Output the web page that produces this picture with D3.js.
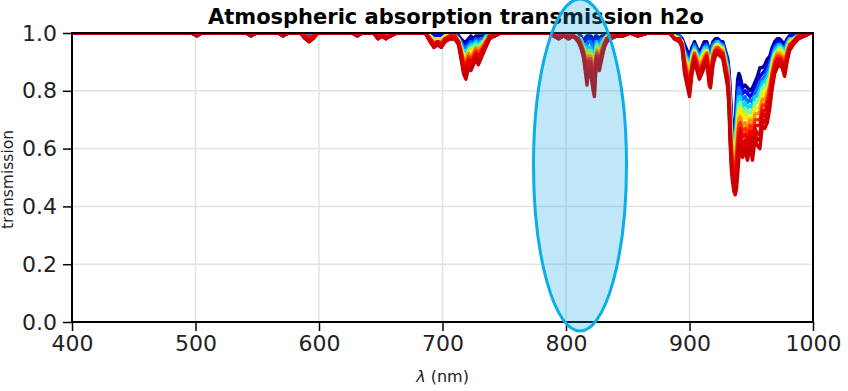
<!DOCTYPE html>
<html>
<head>
<meta charset="utf-8">
<script src="https://cdn.jsdelivr.net/npm/d3@7"></script>
<style>
  body { margin: 0; background: #fff; }
  svg { font-family: "DejaVu Sans", sans-serif; }
</style>
</head>
<body>
<div id="chart"></div>
<script>
// wavelength grid (nm)
var wavelength = [400,497,501,505,541,545,549,567,571,575,585,589,592,595,599,627,631,635,644,648,651,654,658,663,686,
  690,693,696,699,702,706,710,713,715,717,719,721,723,725,727,729,731,733,735,738,742,747,
  786,790,794,798,802,806,810,812,814,815,817,818,820,822,823,824,825,827,829,831,833,836,841,846,852,858,866,884,
  888,892,894,896,898,900,902,904,906,908,910,912,914,916,917,919,921,923,925,927,929,931,932,
  933,934,935,936,937,938,939,940,941,943,945,947,949,951,953,955,957,959,961,963,965,
  967,969,971,973,975,977,979,981,984,988,993,998,1000];

// transmission (%) per airmass, lowest airmass first
var t00 = [100,100,100,100,100,100,100,100,100,100,100,100,99,100,100,100,100,100,100,100,100,100,100,100,100,
  100,99,99,99,100,100,100,99,98,97,97,98,99,98,99,99,99,99,100,100,100,100,
  100,100,100,100,100,100,99,99,97,98,99,99,99,98,98,99,99,98,99,99,100,100,100,100,100,100,100,100,
  99,99,98,96,94,92,95,97,95,93,95,97,97,94,94,97,98,98,97,97,94,91,87,
  80,72,67,64,68,77,84,86,85,81,82,81,80,81,83,85,88,88,89,91,92,
  95,97,98,98,97,96,98,99,99,100,100,100,100];
var t01 = [100,100,100,100,100,100,100,100,100,100,100,100,99,100,100,100,100,100,100,100,100,100,100,100,100,
  100,99,99,99,100,100,100,99,97,96,96,97,98,97,98,98,98,98,100,100,100,100,
  100,100,100,100,100,100,99,99,97,97,97,98,98,96,96,98,98,97,98,99,100,100,100,100,100,100,100,100,
  99,99,98,95,93,91,94,96,94,92,94,96,96,93,93,96,97,98,97,96,93,90,86,
  78,70,65,62,66,74,81,83,83,79,80,79,78,79,81,83,85,86,87,89,90,
  94,96,97,97,96,95,97,99,99,100,100,100,100];
var t02 = [100,100,100,100,100,100,100,100,100,100,100,100,99,100,100,100,100,100,100,100,100,100,100,100,100,
  99,98,98,98,99,100,100,98,97,95,95,96,97,96,98,97,98,98,99,100,100,100,
  100,100,100,100,100,100,99,98,96,96,96,97,97,95,94,97,97,96,98,98,99,100,100,100,100,100,100,100,
  99,99,97,94,92,89,93,96,94,91,93,95,96,92,92,96,97,97,96,96,93,89,85,
  77,68,64,61,64,71,78,81,80,77,78,76,77,76,79,81,83,84,85,87,89,
  92,95,96,96,95,94,97,98,98,100,100,100,100];
var t03 = [100,100,100,100,100,100,100,100,100,100,100,99,98,99,100,100,100,100,100,99,100,99,100,100,100,
  99,98,98,98,99,99,99,98,96,94,93,95,96,96,97,96,97,97,99,99,100,100,
  100,100,99,100,99,100,98,98,96,96,94,95,95,93,93,95,97,95,97,98,99,99,100,100,100,100,100,100,
  99,98,97,93,91,88,93,95,93,91,93,95,95,91,90,95,96,97,96,95,92,88,83,
  75,67,62,59,61,69,75,78,78,74,76,74,75,74,78,78,80,83,83,85,87,
  91,94,95,96,95,93,96,98,98,99,100,100,100];
var t04 = [100,100,100,100,100,100,100,100,100,100,100,99,98,99,100,100,100,100,100,99,100,99,100,100,100,
  99,98,98,98,99,99,99,98,95,93,92,94,95,95,96,95,96,97,98,99,100,100,
  100,100,99,100,99,100,98,98,95,95,93,94,94,91,91,94,96,94,96,98,99,99,100,100,100,100,100,100,
  99,98,97,92,90,87,92,94,92,90,92,94,94,90,89,94,96,96,95,95,91,87,82,
  73,65,60,57,59,66,72,75,76,72,74,72,73,72,76,76,78,81,81,83,85,
  90,93,94,95,94,92,95,97,98,99,100,100,100];
var t05 = [100,100,100,100,100,100,100,100,100,100,100,99,98,99,100,100,100,100,100,99,100,99,100,100,100,
  99,97,98,97,99,99,99,98,95,92,91,93,94,94,95,94,95,96,98,99,100,100,
  100,100,99,100,99,100,98,97,95,94,91,93,93,90,89,93,95,93,95,97,99,99,100,100,100,100,100,100,
  99,98,97,91,89,86,91,94,91,89,91,93,94,89,88,93,95,96,95,94,90,86,81,
  71,63,58,55,57,63,69,73,74,70,72,70,71,70,74,74,75,79,79,81,84,
  89,92,93,94,93,91,94,97,98,99,100,100,100];
var t06 = [100,100,99,100,100,99,100,100,99,100,100,99,98,99,100,100,99,100,100,99,99,99,99,100,100,
  98,97,97,97,98,99,99,97,94,91,90,93,92,93,95,94,95,96,97,99,99,100,
  100,99,99,99,99,99,98,97,94,93,90,92,92,88,87,92,94,92,95,97,98,99,99,99,100,99,100,100,
  98,98,96,91,87,84,90,93,91,88,90,92,93,87,87,93,95,95,94,94,90,86,80,
  70,61,57,54,55,60,66,70,71,68,69,67,70,67,72,72,73,77,77,79,82,
  87,91,93,93,92,90,94,96,97,99,99,100,100];
var t07 = [100,100,99,100,100,99,100,100,99,100,100,99,98,99,100,100,99,100,100,99,99,99,99,100,100,
  98,96,97,96,98,99,99,97,94,90,89,92,91,92,94,93,94,95,97,99,99,100,
  100,99,99,99,99,99,98,96,94,92,88,91,91,87,85,91,93,91,94,96,98,99,99,99,100,99,100,100,
  98,98,96,90,86,83,89,93,90,87,89,91,93,86,86,92,94,95,94,93,89,85,79,
  68,59,55,52,53,57,63,68,69,66,67,65,68,65,70,70,70,75,75,77,81,
  86,90,92,92,91,89,93,96,97,99,99,100,100];
var t08 = [100,100,99,100,100,99,100,100,99,100,100,99,98,99,100,100,99,100,100,99,99,99,99,100,100,
  98,96,97,96,98,99,99,97,93,89,88,91,90,91,93,92,93,95,96,99,99,100,
  100,99,99,99,99,99,98,96,93,91,87,90,90,85,83,90,92,90,93,96,98,99,99,99,100,99,100,100,
  98,98,96,89,85,82,88,92,89,86,88,90,92,85,85,91,94,94,93,93,88,84,78,
  66,57,53,50,51,54,60,65,67,64,65,63,66,63,68,68,68,73,73,75,79,
  85,89,91,91,90,88,92,95,97,99,99,100,100];
var t09 = [100,100,99,100,100,99,100,100,99,100,100,98,97,98,100,100,99,100,100,98,99,98,99,100,100,
  98,96,97,96,98,98,98,97,92,88,86,90,89,91,92,91,92,94,96,98,99,100,
  100,99,98,99,98,99,97,96,93,91,85,88,88,83,82,88,92,89,92,96,98,98,99,99,100,99,100,100,
  98,97,96,88,84,81,88,91,88,86,88,90,91,84,83,90,93,94,93,92,87,83,76,
  64,56,51,48,48,52,57,62,65,61,63,61,64,61,67,65,65,72,71,73,77,
  84,88,90,91,90,87,91,95,97,98,99,100,100];
var t10 = [100,100,99,100,100,99,100,100,99,100,100,98,97,98,100,100,99,100,100,98,99,98,99,100,100,
  97,95,96,95,97,98,98,96,92,87,85,89,88,90,92,90,92,94,95,98,99,100,
  100,99,98,99,98,99,97,95,92,90,84,87,87,82,80,87,91,88,92,95,97,98,99,99,100,99,100,100,
  98,97,95,87,83,79,87,91,88,85,87,89,91,83,82,90,93,93,92,92,87,82,75,
  63,54,50,47,46,49,54,60,62,59,61,58,63,58,65,63,63,70,69,71,76,
  82,87,89,90,89,86,91,94,96,98,99,100,100];
var t11 = [100,100,99,100,100,99,100,100,99,100,100,98,97,98,100,100,99,100,100,98,99,98,99,100,100,
  97,95,96,95,97,98,98,96,91,86,84,88,87,89,91,89,91,93,95,98,99,100,
  100,99,98,99,98,99,97,95,92,89,82,86,86,80,78,86,90,87,91,95,97,98,99,99,100,99,100,100,
  98,97,95,86,82,78,86,90,87,84,86,88,90,82,81,89,92,93,92,91,86,81,74,
  61,52,48,45,44,46,51,57,60,57,59,56,61,56,63,61,60,68,67,69,74,
  81,86,88,89,88,85,90,94,96,98,99,100,100];

var seriesValues = [t00, t01, t02, t03, t04, t05, t06, t07, t08, t09, t10, t11];
var seriesColors = ["#00008f","#0000ff","#0070ff","#00d8ff","#80ff80","#ffe800",
  "#ff9000","#ff3000","#f00000","#e00000","#d40000","#cc0000"];

var xTicks = [400, 500, 600, 700, 800, 900, 1000];
var yTicks = [0.0, 0.2, 0.4, 0.6, 0.8, 1.0];

var svgWidth = 848;
var svgHeight = 391;
var margin = { top: 33, right: 35, bottom: 69, left: 72 };
var width = svgWidth - margin.left - margin.right;
var height = svgHeight - margin.top - margin.bottom;

var svg = d3.select("#chart")
  .append("svg")
  .attr("width", svgWidth)
  .attr("height", svgHeight);

var g = svg.append("g")
  .attr("transform", `translate(${margin.left}, ${margin.top})`);

var xScale = d3.scaleLinear().domain([400, 1000]).range([0, width]);
var yScale = d3.scaleLinear().domain([0, 1]).range([height, 0]);

// grid
g.append("g")
  .selectAll("line")
  .data(xTicks)
  .enter()
  .append("line")
  .attr("x1", d => xScale(d)).attr("x2", d => xScale(d))
  .attr("y1", 0).attr("y2", height)
  .attr("stroke", "#e3e3e3")
  .attr("stroke-width", 1.5);

g.append("g")
  .selectAll("line")
  .data(yTicks)
  .enter()
  .append("line")
  .attr("x1", 0).attr("x2", width)
  .attr("y1", d => yScale(d)).attr("y2", d => yScale(d))
  .attr("stroke", "#e3e3e3")
  .attr("stroke-width", 1.5);

svg.append("clipPath").attr("id", "plotclip")
  .append("rect")
  .attr("width", width).attr("height", height);

var line = d3.line()
  .x((d, i) => xScale(wavelength[i]))
  .y(d => yScale(d / 100));

g.append("g")
  .attr("clip-path", "url(#plotclip)")
  .selectAll("path")
  .data(seriesValues)
  .enter()
  .append("path")
  .attr("d", d => line(d))
  .attr("fill", "none")
  .attr("stroke", (d, i) => seriesColors[i])
  .attr("stroke-width", 3.4)
  .attr("stroke-linejoin", "round");

// axes
var bottomAxis = d3.axisBottom(xScale).tickValues(xTicks).tickFormat(d3.format("d")).tickSize(9).tickPadding(4);
var leftAxis = d3.axisLeft(yScale).tickValues(yTicks).tickFormat(d3.format(".1f")).tickSize(9).tickPadding(6);

var xAxisG = g.append("g")
  .attr("transform", `translate(0, ${height})`)
  .call(bottomAxis);
var yAxisG = g.append("g").call(leftAxis);

[xAxisG, yAxisG].forEach(function(ax) {
  ax.select(".domain").remove();
  ax.selectAll("line").attr("stroke", "#000").attr("stroke-width", 1.5);
  ax.selectAll("text")
    .attr("fill", "#222")
    .style("font-size", "22px")
    .style("font-family", "DejaVu Sans");
});

// frame
g.append("rect")
  .attr("width", width).attr("height", height)
  .attr("fill", "none")
  .attr("stroke", "#000")
  .attr("stroke-width", 2);

// labels
svg.append("text")
  .attr("x", 456).attr("y", 24)
  .attr("text-anchor", "middle")
  .style("font-size", "21px")
  .style("font-weight", "bold")
  .text("Atmospheric absorption transmission h2o");

svg.append("text")
  .attr("transform", `translate(${margin.left + width / 2}, 382)`)
  .attr("text-anchor", "middle")
  .style("font-size", "16px")
  .attr("fill", "#222")
  .html('<tspan font-style="italic">λ</tspan> (nm)');

svg.append("text")
  .attr("transform", `translate(13, ${margin.top + height / 2 + 2}) rotate(-90)`)
  .attr("text-anchor", "middle")
  .style("font-size", "15.5px")
  .attr("fill", "#222")
  .text("transmission");

// highlight around the 820 nm band
svg.append("ellipse")
  .attr("cx", 580).attr("cy", 165)
  .attr("rx", 46.5).attr("ry", 166)
  .attr("fill", "#00a0e0")
  .attr("fill-opacity", 0.25)
  .attr("stroke", "#0aaee8")
  .attr("stroke-width", 3);
</script>
</body>
</html>
